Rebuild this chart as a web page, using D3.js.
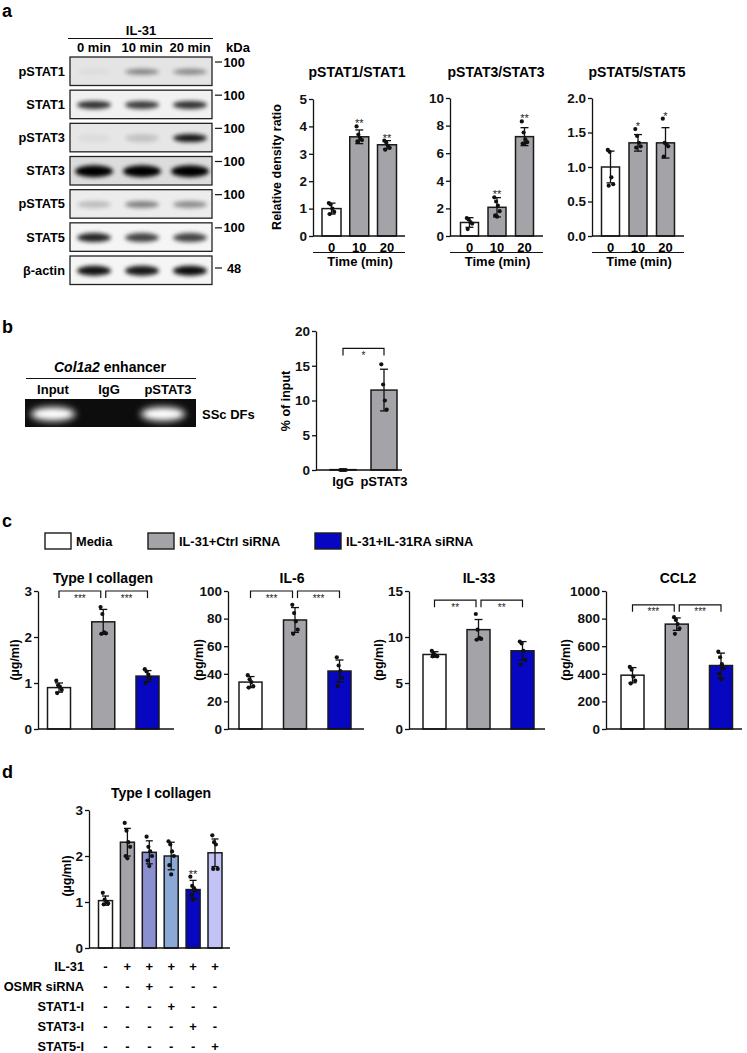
<!DOCTYPE html>
<html>
<head>
<meta charset="utf-8">
<script src="https://cdn.jsdelivr.net/npm/d3@7"></script>
<style>
  body { margin: 0; background: #fff; }
  svg { display: block; font-family: "Liberation Sans", Arial, sans-serif; font-weight: bold; }
</style>
</head>
<body>
<svg id="fig" width="747" height="1053"></svg>
<script>
// ---- panel a : western blot ----
const blotRows = ["pSTAT1", "STAT1", "pSTAT3", "STAT3", "pSTAT5", "STAT5", "β-actin"];
const blotLanes = ["0 min", "10 min", "20 min"];
const blotMarkers = ["100", "100", "100", "100", "100", "100", "48"];
const bandIntensity = [
  [0.03, 0.42, 0.4],
  [0.8, 0.75, 0.8],
  [0.04, 0.15, 0.9],
  [1, 1, 1],
  [0.2, 0.45, 0.4],
  [0.85, 0.72, 0.72],
  [0.92, 0.9, 0.95]
];

// ---- panel a : densitometry ----
const timeLabels = ["0", "10", "20"];
const pstat1Means = [1.0, 3.62, 3.33];
const pstat1SD = [0.2, 0.25, 0.15];
const pstat1Points = [[1.2, 1.15, 1.0, 0.88, 0.8], [4.0, 3.7, 3.58, 3.5, 3.45], [3.48, 3.42, 3.3, 3.22, 3.15]];
const pstat1Sig = ["", "**", "**"];

const pstat3Means = [0.98, 2.08, 7.2];
const pstat3SD = [0.35, 0.7, 0.65];
const pstat3Points = [[1.3, 1.2, 1.0, 0.9, 0.5], [2.8, 2.5, 2.2, 1.8, 1.5, 1.4], [8.3, 7.5, 7.0, 6.8, 6.7, 6.7]];
const pstat3Sig = ["", "**", "**"];

const pstat5Means = [1.0, 1.35, 1.35];
const pstat5SD = [0.23, 0.12, 0.22];
const pstat5Points = [[1.25, 1.22, 0.85, 0.75, 0.73], [1.55, 1.45, 1.35, 1.3, 1.28], [1.7, 1.35, 1.33, 1.3, 1.15]];
const pstat5Sig = ["", "*", "*"];

// ---- panel b : ChIP ----
const chipLanes = ["Input", "IgG", "pSTAT3"];
const chipBand = [1, 0, 1];
const chipGroups = ["IgG", "pSTAT3"];
const chipMeans = [0.05, 11.5];
const chipSD = [0, 3.0];
const chipPoints = [[0, 0, 0, 0], [15.2, 12.3, 10.0, 8.7]];

// ---- panel c ----
const cGroups = ["Media", "IL-31+Ctrl siRNA", "IL-31+IL-31RA siRNA"];
const colMeans = [0.9, 2.33, 1.15];
const colSD = [0.1, 0.27, 0.12];
const colPoints = [[1.05, 0.95, 0.92, 0.85, 0.78], [2.65, 2.5, 2.1, 2.08, 2.07], [1.3, 1.25, 1.18, 1.1, 1.0]];
const il6Means = [34, 79, 42];
const il6SD = [4, 9, 8];
const il6Points = [[39, 36, 34, 31, 30], [90, 84, 78, 72, 69], [52, 46, 42, 37, 31]];
const il33Means = [8.1, 10.8, 8.5];
const il33SD = [0.3, 1.1, 1.0];
const il33Points = [[8.5, 8.2, 8.0, 7.9, 7.9], [12.5, 10.8, 9.9, 9.8, 9.7], [9.5, 9.3, 8.5, 7.5, 7.0]];
const ccl2Means = [390, 760, 460];
const ccl2SD = [55, 45, 90];
const ccl2Points = [[450, 430, 380, 350, 330], [810, 790, 760, 730, 690], [560, 520, 470, 440, 400, 360]];
const cSig = [["***", "***"], ["***", "***"], ["**", "**"], ["***", "***"]];
const cBracketY = [3, 100, 14, 900];

// ---- panel d ----
const dMeans = [1.03, 2.3, 2.08, 2.0, 1.27, 2.07];
const dSD = [0.1, 0.3, 0.25, 0.3, 0.2, 0.3];
const dPoints = [
  [1.2, 1.05, 1.0, 0.97, 0.95],
  [2.72, 2.55, 2.3, 2.2, 2.0, 1.95],
  [2.42, 2.2, 2.1, 2.0, 1.9, 1.78],
  [2.32, 2.25, 2.1, 2.0, 1.8, 1.6],
  [1.55, 1.35, 1.3, 1.25, 1.15, 1.05],
  [2.45, 2.3, 2.25, 1.72, 1.72]
];
const dSig = ["", "", "", "", "**", ""];
const dTreatments = ["IL-31", "OSMR siRNA", "STAT1-I", "STAT3-I", "STAT5-I"];
const dTable = [
  ["-", "+", "+", "+", "+", "+"],
  ["-", "-", "+", "-", "-", "-"],
  ["-", "-", "-", "+", "-", "-"],
  ["-", "-", "-", "-", "+", "-"],
  ["-", "-", "-", "-", "-", "+"]
];

// colours
const WHITE = "#ffffff", GRAY = "#a3a3a8", BLUE = "#0707c2";
const dColors = [WHITE, GRAY, "#8a8fcf", "#8aa9d6", BLUE, "#c2c2f6"];

const svg = d3.select("#fig");
const defs = svg.append("defs");
defs.append("filter").attr("id", "blur").attr("x", "-50%").attr("y", "-100%").attr("width", "200%").attr("height", "300%")
  .append("feGaussianBlur").attr("stdDeviation", 2.2);
defs.append("filter").attr("id", "glow").attr("x", "-50%").attr("y", "-100%").attr("width", "200%").attr("height", "300%")
  .append("feGaussianBlur").attr("stdDeviation", 3);

function panelLetter(t, x, y) {
  svg.append("text").attr("x", x).attr("y", y).attr("font-size", 18).text(t);
}

// generic bar chart
function barChart(s) {
  const g = svg.append("g");
  const y = d3.scaleLinear().domain(s.domain).range([s.y0, s.yTop]);
  const x = d3.scalePoint().domain(d3.range(s.means.length)).range(s.xr);
  const bw = s.barW;

  g.selectAll("rect.bar").data(s.means).join("rect")
    .attr("x", (d, i) => x(i) - bw / 2)
    .attr("y", d => y(d))
    .attr("width", bw)
    .attr("height", d => s.y0 - y(d))
    .attr("fill", (d, i) => s.colors[i])
    .attr("stroke", "#1a1a1a").attr("stroke-width", 1.5);

  // error bars
  const cap = s.cap || 4;
  s.means.forEach((m, i) => {
    const sd = s.sd[i];
    if (!sd) return;
    const cx = x(i);
    g.append("line").attr("x1", cx).attr("x2", cx).attr("y1", y(m - sd)).attr("y2", y(m + sd));
    g.append("line").attr("x1", cx - cap).attr("x2", cx + cap).attr("y1", y(m + sd)).attr("y2", y(m + sd));
    g.append("line").attr("x1", cx - cap).attr("x2", cx + cap).attr("y1", y(m - sd)).attr("y2", y(m - sd));
  });
  g.selectAll("line").attr("stroke", "#111").attr("stroke-width", 1.3);

  // points
  s.points.forEach((pts, i) => {
    g.selectAll(null).data(pts).join("circle")
      .attr("cx", (d, j) => x(i) + ((j * 37) % 7 - 3) * 0.9)
      .attr("cy", d => y(d))
      .attr("r", 2.1)
      .attr("fill", "#111");
  });

  // significance above bars
  if (s.sig) {
    s.sig.forEach((t, i) => {
      if (!t) return;
      const top = Math.max(d3.max(s.points[i]), s.means[i] + s.sd[i]);
      g.append("text").attr("x", x(i)).attr("y", y(top) + 1)
        .attr("text-anchor", "middle").attr("font-size", 11).attr("font-weight", "normal")
        .attr("fill", "#222").text(t);
    });
  }

  // y axis
  const ax = g.append("g").attr("transform", `translate(${s.axisX},0)`)
    .call(d3.axisLeft(y).tickValues(s.ticks).tickSize(4).tickSizeOuter(0).tickPadding(2)
      .tickFormat(s.fmt || d3.format("d")));
  ax.selectAll("path, line").attr("stroke", "#111").attr("stroke-width", 1.3);
  ax.selectAll("text").attr("font-size", 13.5).attr("fill", "#111");
  ax.attr("font-family", null).attr("font-size", null);

  // x axis line
  g.append("line").attr("x1", s.axisX).attr("x2", s.xEnd).attr("y1", s.y0).attr("y2", s.y0)
    .attr("stroke", "#111").attr("stroke-width", 1.3);

  if (s.xLabels) {
    g.selectAll("text.xl").data(s.xLabels).join("text")
      .attr("x", (d, i) => x(i)).attr("y", s.y0 + 16)
      .attr("text-anchor", "middle").attr("font-size", 13).text(d => d);
  }
  if (s.title) {
    g.append("text").attr("x", s.titleX).attr("y", s.titleY).attr("text-anchor", "middle")
      .attr("font-size", 14).text(s.title);
  }
  if (s.yLabel) {
    g.append("text").attr("transform", `translate(${s.yLabelX},${s.yLabelY}) rotate(-90)`)
      .attr("text-anchor", "middle").attr("font-size", 12.5).text(s.yLabel);
  }
  // brackets
  if (s.brackets) {
    s.brackets.forEach(b => {
      const x1 = x(b.from) + (b.gapL || 0), x2 = x(b.to) - (b.gapR || 0), yy = y(b.y);
      g.append("path").attr("d", `M${x1},${yy + 7}V${yy}H${x2}V${yy + 7}`)
        .attr("fill", "none").attr("stroke", "#111").attr("stroke-width", 1.2);
      g.append("text").attr("x", (x1 + x2) / 2).attr("y", yy + 10.5).attr("text-anchor", "middle")
        .attr("font-size", 10).attr("font-weight", "normal").attr("fill", "#222").text(b.label);
    });
  }
  return { x, y, g };
}

// ================= panel a =================
panelLetter("a", 2, 17);

const laneX = d3.scalePoint().domain(blotLanes).range([94, 190]);
const rowY = d3.scalePoint().domain(blotRows).range([57, 256]);
const rowH = 28.5;
const rowBg = ["#e4e4e4", "#f1f1f1", "#e6e6e6", "#dcdcdc", "#ececec", "#f5f5f5", "#f5f5f5"];
const bandRy = [3, 4, 4, 6, 3.5, 4.5, 5];

svg.append("text").attr("x", 141).attr("y", 35).attr("text-anchor", "middle").attr("font-size", 13).text("IL-31");
svg.append("line").attr("x1", 68).attr("x2", 213).attr("y1", 38.5).attr("y2", 38.5).attr("stroke", "#111").attr("stroke-width", 1.2);
svg.selectAll("text.lane").data(blotLanes).join("text")
  .attr("x", d => laneX(d)).attr("y", 51.5).attr("text-anchor", "middle").attr("font-size", 13).text(d => d);
svg.append("text").attr("x", 238).attr("y", 51.5).attr("text-anchor", "middle").attr("font-size", 13).text("kDa");

blotRows.forEach((r, ri) => {
  const top = rowY(r);
  const clipId = "clip" + ri;
  defs.append("clipPath").attr("id", clipId).append("rect")
    .attr("x", 70).attr("y", top).attr("width", 142).attr("height", rowH);
  const g = svg.append("g");
  g.append("rect").attr("x", 70).attr("y", top).attr("width", 142).attr("height", rowH).attr("fill", rowBg[ri]);
  const bands = g.append("g").attr("clip-path", `url(#${clipId})`);
  blotLanes.forEach((l, li) => {
    bands.append("ellipse")
      .attr("cx", laneX(l)).attr("cy", top + rowH / 2 + 0.5)
      .attr("rx", ri === 3 ? 19 : 17).attr("ry", bandRy[ri])
      .attr("fill", "#000").attr("opacity", bandIntensity[ri][li])
      .attr("filter", "url(#blur)");
  });
  g.append("rect").attr("x", 70).attr("y", top).attr("width", 142).attr("height", rowH)
    .attr("fill", "none").attr("stroke", "#222").attr("stroke-width", 1.3);
  svg.append("text").attr("x", 65).attr("y", top + rowH / 2 + 4.5).attr("text-anchor", "end")
    .attr("font-size", 12.8).text(r);
  const is48 = blotMarkers[ri] === "48";
  const my = is48 ? top + 12 : top + 5;
  svg.append("line").attr("x1", 215).attr("x2", 222).attr("y1", my).attr("y2", my).attr("stroke", "#111").attr("stroke-width", 1.2);
  svg.append("text").attr("x", is48 ? 227 : 223.5).attr("y", my + 4.5).attr("font-size", 12.8).text(blotMarkers[ri]);
});

const aCommon = { y0: 236, colors: [WHITE, GRAY, GRAY], xLabels: timeLabels, titleY: 77, cap: 4 };
barChart(Object.assign({}, aCommon, {
  yTop: 99, domain: [0, 5], ticks: [0, 1, 2, 3, 4, 5], axisX: 313, xEnd: 405, xr: [331.5, 387], barW: 19,
  means: pstat1Means, sd: pstat1SD, points: pstat1Points, sig: pstat1Sig,
  title: "pSTAT1/STAT1", titleX: 357, yLabel: "Relative density ratio", yLabelX: 281, yLabelY: 167
}));
barChart(Object.assign({}, aCommon, {
  yTop: 98, domain: [0, 10], ticks: [0, 2, 4, 6, 8, 10], axisX: 450, xEnd: 543, xr: [469.5, 524.5], barW: 18,
  means: pstat3Means, sd: pstat3SD, points: pstat3Points, sig: pstat3Sig,
  title: "pSTAT3/STAT3", titleX: 496
}));
barChart(Object.assign({}, aCommon, {
  yTop: 98, domain: [0, 2], ticks: [0, 0.5, 1, 1.5, 2], fmt: d3.format(".1f"), axisX: 592, xEnd: 684, xr: [610.5, 665.5], barW: 18,
  means: pstat5Means, sd: pstat5SD, points: pstat5Points, sig: pstat5Sig,
  title: "pSTAT5/STAT5", titleX: 637
}));
[[313, 405], [450, 543], [592, 684]].forEach(([a, b]) => {
  svg.append("line").attr("x1", a).attr("x2", b).attr("y1", 252.5).attr("y2", 252.5).attr("stroke", "#111").attr("stroke-width", 1.2);
  svg.append("text").attr("x", (a + b) / 2 + 1).attr("y", 266).attr("text-anchor", "middle").attr("font-size", 13).text("Time (min)");
});

// ================= panel b =================
panelLetter("b", 2, 333);
const gelX = d3.scalePoint().domain(chipLanes).range([53, 165]);
const enh = svg.append("text").attr("x", 110).attr("y", 372).attr("text-anchor", "middle").attr("font-size", 14);
enh.append("tspan").attr("font-style", "italic").text("Col1a2");
enh.append("tspan").text(" enhancer");
svg.append("line").attr("x1", 26).attr("x2", 196).attr("y1", 378.5).attr("y2", 378.5).attr("stroke", "#111").attr("stroke-width", 1.2);
svg.selectAll("text.gl").data(chipLanes).join("text")
  .attr("x", (d, i) => gelX(d) + (i === 2 ? 3 : 0)).attr("y", 394).attr("text-anchor", "middle").attr("font-size", 13).text(d => d);
defs.append("clipPath").attr("id", "gelclip").append("rect").attr("x", 25).attr("y", 399).attr("width", 171).attr("height", 28);
svg.append("rect").attr("x", 25).attr("y", 399).attr("width", 171).attr("height", 28).attr("fill", "#0d0d0d");
const gel = svg.append("g").attr("clip-path", "url(#gelclip)");
chipLanes.forEach((l, i) => {
  if (!chipBand[i]) return;
  const cx = gelX(l) + (i === 2 ? -2 : 0);
  gel.append("ellipse").attr("cx", cx).attr("cy", 414).attr("rx", 23).attr("ry", 8).attr("fill", "#bdbdbd").attr("filter", "url(#glow)");
  gel.append("ellipse").attr("cx", cx).attr("cy", 414).attr("rx", 17).attr("ry", 3.5).attr("fill", "#fff").attr("filter", "url(#blur)");
});
svg.append("text").attr("x", 202).attr("y", 418.5).attr("font-size", 13).text("SSc DFs");

barChart({
  y0: 470, yTop: 331, domain: [0, 20], ticks: [0, 5, 10, 15, 20], axisX: 316, xEnd: 402, xr: [343, 384], barW: 26,
  colors: [GRAY, GRAY], means: chipMeans, sd: chipSD, points: chipPoints, cap: 4,
  xLabels: chipGroups, yLabel: "% of input", yLabelX: 290, yLabelY: 401,
  brackets: [{ from: 0, to: 1, y: 17.5, label: "*" }]
});

// ================= panel c =================
panelLetter("c", 2, 527);
const legX = [45, 148, 315];
cGroups.forEach((t, i) => {
  svg.append("rect").attr("x", legX[i]).attr("y", 533).attr("width", 26).attr("height", 16)
    .attr("fill", [WHITE, GRAY, BLUE][i]).attr("stroke", "#1a1a1a").attr("stroke-width", 1.4);
  svg.append("text").attr("x", legX[i] + 31).attr("y", 545.5).attr("font-size", 12.8).text(t);
});

const cSpecs = [
  { title: "Type I collagen", titleX: 103, axisX: 38, xr: [59, 147.5], domain: [0, 3], ticks: [0, 1, 2, 3], means: colMeans, sd: colSD, points: colPoints, yLabel: "(µg/ml)", yLabelX: 19 },
  { title: "IL-6", titleX: 292, axisX: 228, xr: [250.5, 339.5], domain: [0, 100], ticks: [0, 20, 40, 60, 80, 100], means: il6Means, sd: il6SD, points: il6Points, yLabel: "(pg/ml)", yLabelX: 203 },
  { title: "IL-33", titleX: 479, axisX: 409, xr: [434.5, 522.5], domain: [0, 15], ticks: [0, 5, 10, 15], means: il33Means, sd: il33SD, points: il33Points, yLabel: "(pg/ml)", yLabelX: 383 },
  { title: "CCL2", titleX: 678, axisX: 606, xr: [632.5, 721], domain: [0, 1000], ticks: [0, 200, 400, 600, 800, 1000], means: ccl2Means, sd: ccl2SD, points: ccl2Points, yLabel: "(pg/ml)", yLabelX: 570 }
];
cSpecs.forEach((s, k) => {
  barChart(Object.assign({
    y0: 729, yTop: 591, barW: 23, xEnd: s.axisX + 136, colors: [WHITE, GRAY, BLUE], cap: 4,
    titleY: 583, yLabelY: 660,
    brackets: [
      { from: 0, to: 1, y: cBracketY[k], label: cSig[k][0], gapR: 2.5 },
      { from: 1, to: 2, y: cBracketY[k], label: cSig[k][1], gapL: 2.5 }
    ]
  }, s));
});

// ================= panel d =================
panelLetter("d", 2, 778);
const dChart = barChart({
  y0: 948, yTop: 810, domain: [0, 3], ticks: [0, 1, 2, 3], axisX: 89, xEnd: 230, xr: [105.5, 215], barW: 14,
  colors: dColors, means: dMeans, sd: dSD, points: dPoints, sig: dSig, cap: 3.5,
  title: "Type I collagen", titleX: 161, titleY: 798, yLabel: "(µg/ml)", yLabelX: 71, yLabelY: 876
});
const rowYd = d3.scalePoint().domain(dTreatments).range([970.5, 1050.5]);
dTreatments.forEach((t, r) => {
  svg.append("text").attr("x", 84).attr("y", rowYd(t)).attr("text-anchor", "end").attr("font-size", 12.8).text(t);
  dTable[r].forEach((v, i) => {
    svg.append("text").attr("x", dChart.x(i)).attr("y", rowYd(t)).attr("text-anchor", "middle")
      .attr("font-size", 13).text(v);
  });
});
</script>
</body>
</html>
